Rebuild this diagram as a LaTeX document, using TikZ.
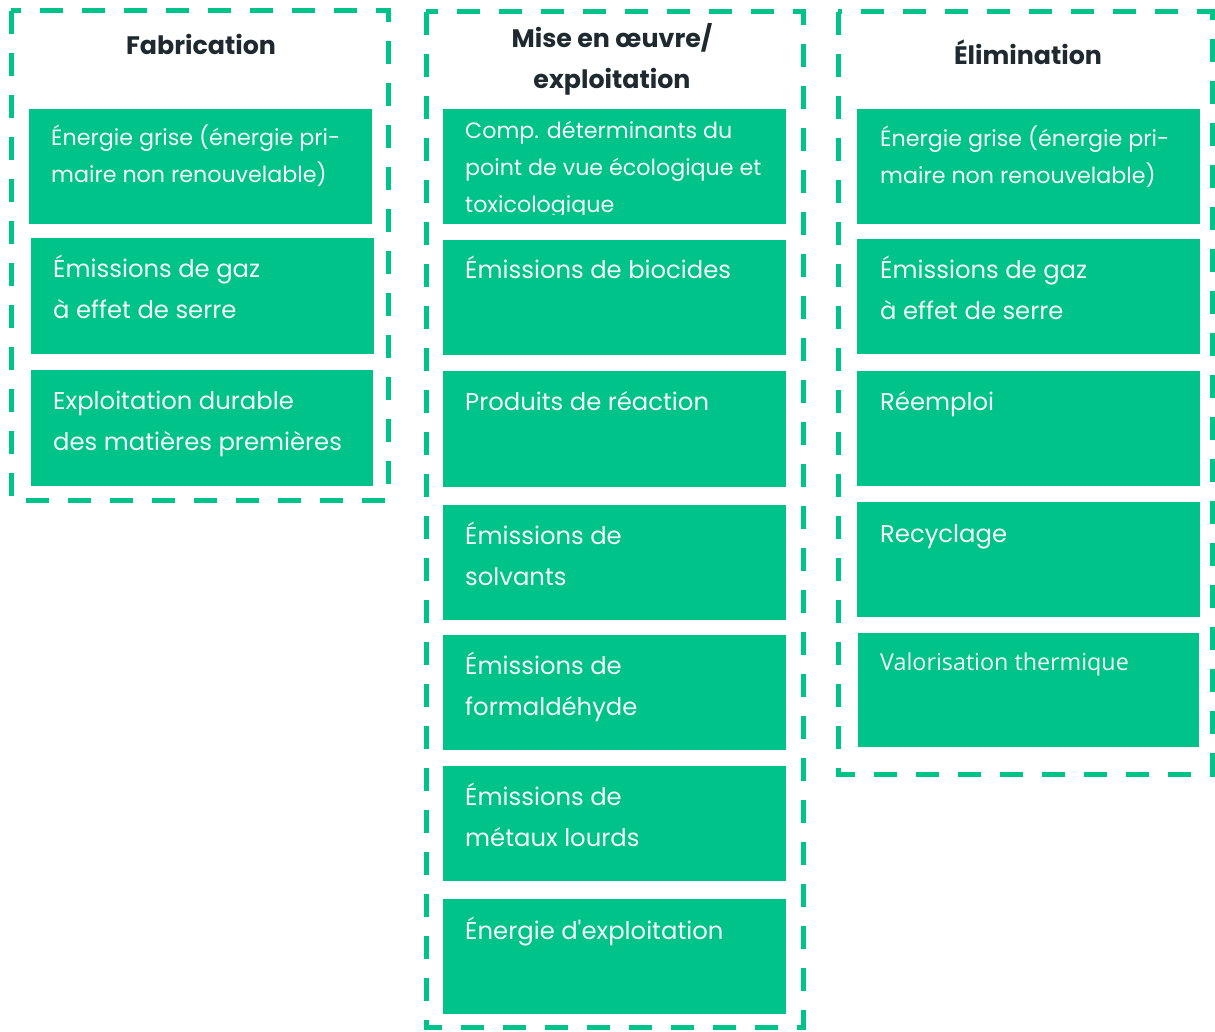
\documentclass[tikz,border=0pt]{standalone}
\usepackage{fontspec}
\setmainfont{Poppins}[Ligatures=TeXOff]
\newfontfamily\valfont{Open Sans}
\definecolor{gr}{HTML}{00C389}
\definecolor{ttl}{HTML}{1F2A30}
\definecolor{wt}{HTML}{F4F8F6}
\newcommand\lns[1]{\begin{tabular}[t]{@{}l@{}}#1\end{tabular}}
\newcommand\bigfont{\fontsize{24.3}{41}\selectfont}
\newcommand\smallfont{\fontsize{22.2}{36.7}\selectfont}
\tikzset{
  gbox/.style={fill=gr, draw=none, anchor=north west, inner sep=0pt},
  txt/.style={anchor=base west, inner sep=0pt, text=wt, font=\bigfont},
  stxt/.style={txt, font=\smallfont},
  ttlnode/.style={anchor=base, inner sep=0pt, text=ttl, font=\fontsize{25.3}{40}\selectfont\bfseries},
  frame/.style={draw=gr, line width=5pt, dash pattern=on 23pt off 19pt}
}
\begin{document}
\begin{tikzpicture}[x=1pt,y=-1pt]
\useasboundingbox (0,0) rectangle (1215,1032);
% frames
\draw[frame] (11,11) rectangle (388,500);
\draw[frame] (426,12) rectangle (803,1027);
\draw[frame] (838,12) rectangle (1212,774);
% titles
\node[ttlnode] (t1) at (201,55) {Fabrication};
\node[ttlnode] (t2a) at (612,48) {Mise en œuvre/};
\node[ttlnode] (t2b) at (612,89) {exploitation};
\node[ttlnode] (t3) at (1028,65) {Élimination};
% column 1
\node[gbox, minimum width=343pt, minimum height=115pt] (a1) at (29,109) {};
\node[gbox, minimum width=343pt, minimum height=116pt] (a2) at (31,238) {};
\node[gbox, minimum width=342pt, minimum height=116pt] (a3) at (31,370) {};
\node[stxt] (a1t) at (51,146) {\lns{Énergie grise (énergie pri-\\maire non renouvelable)}};
\node[txt] (a2t) at (53,278) {\lns{Émissions de gaz\\à effet de serre}};
\node[txt] (a3t) at (53,409) {\lns{Exploitation durable\\des matières premières}};
% column 2
\node[gbox, minimum width=343pt, minimum height=115pt] (c1) at (443,109) {};
\node[gbox, minimum width=343pt, minimum height=115pt] (c2) at (443,240) {};
\node[gbox, minimum width=343pt, minimum height=116pt] (c3) at (443,371) {};
\node[gbox, minimum width=343pt, minimum height=115pt] (c4) at (443,505) {};
\node[gbox, minimum width=343pt, minimum height=115pt] (c5) at (443,635) {};
\node[gbox, minimum width=343pt, minimum height=115pt] (c6) at (443,766) {};
\node[gbox, minimum width=343pt, minimum height=115pt] (c7) at (443,899) {};
\begin{scope}
\clip (443,109) rectangle (786,215);
\node[stxt] (c1t) at (465,139) {\lns{Comp. déterminants du\\point de vue écologique et\\toxicologique}};
\end{scope}
\node[txt] (c2t) at (465,279) {Émissions de biocides};
\node[txt] (c3t) at (465,410) {Produits de réaction};
\node[txt] (c4t) at (465,544) {\lns{Émissions de\\solvants}};
\node[txt] (c5t) at (465,674) {\lns{Émissions de\\formaldéhyde}};
\node[txt] (c6t) at (465,805) {\lns{Émissions de\\métaux lourds}};
\node[txt] (c7t) at (465,939) {Énergie d'exploitation};
% column 3
\node[gbox, minimum width=343pt, minimum height=115pt] (d1) at (857,109) {};
\node[gbox, minimum width=343pt, minimum height=115pt] (d2) at (857,239) {};
\node[gbox, minimum width=343pt, minimum height=115pt] (d3) at (857,371) {};
\node[gbox, minimum width=343pt, minimum height=115pt] (d4) at (857,502) {};
\node[gbox, minimum width=341pt, minimum height=114pt] (d5) at (858,633) {};
\node[stxt] (d1t) at (880,147) {\lns{Énergie grise (énergie pri-\\maire non renouvelable)}};
\node[txt] (d2t) at (880,279) {\lns{Émissions de gaz\\à effet de serre}};
\node[txt] (d3t) at (880,410) {Réemploi};
\node[txt] (d4t) at (880,542) {Recyclage};
\node[txt, font=\valfont\fontsize{23.3}{30}\selectfont] (d5t) at (880,670) {Valorisation thermique};
\end{tikzpicture}
\end{document}
